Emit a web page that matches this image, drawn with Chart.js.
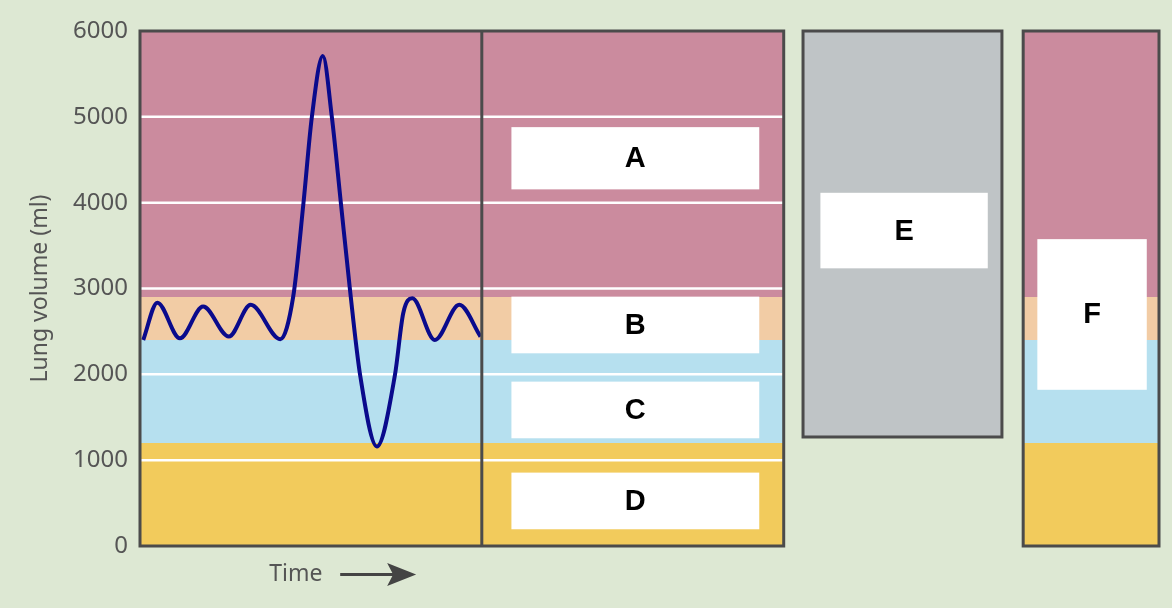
<!DOCTYPE html>
<html lang="en">
<head>
  <meta charset="UTF-8">
  <title>Lung volumes</title>
  <script src="https://cdn.jsdelivr.net/npm/chart.js"></script>
  <style>
    body { margin: 0; background: #dde8d3; }
    canvas { display: block; }
  </style>
</head>
<body>

  <canvas id="chart" width="1172" height="608"></canvas>

  <script>
    // spirometer trace (time in arbitrary units, volume in ml)
    const waveTime   = [0.5, 2.7, 6.2, 9.8, 13.8, 17.2, 21.8, 23.8, 25.4, 26.7, 28.4, 29.8, 31.2, 32.6, 34.2, 36.8, 39.6, 40.9, 42.3, 45.8, 49.6, 52.9];
    const waveVolume = [2400, 2835, 2420, 2790, 2440, 2810, 2410, 2905, 4000, 5000, 5710, 5000, 4000, 3000, 1990, 1160, 1990, 2715, 2885, 2400, 2810, 2440];

    // volume bands, bottom to top
    const bandBottoms = [0, 1200, 2400, 2900];
    const bandTops    = [1200, 2400, 2900, 6000];
    const bandColors  = ['#f2cb5c', '#b6e0ef', '#f2cca5', '#cb8b9e'];

    // vital capacity bar (E)
    const capacityBottom = 1270;
    const capacityTop = 6000;

    const gridValues = [1000, 2000, 3000, 4000, 5000];
    const yTicks = [0, 1000, 2000, 3000, 4000, 5000, 6000];

    const boxLabels = ['A', 'B', 'C', 'D', 'E', 'F'];

    // layout in axis units: x spans the three panels, y is ml
    const mainPanel = [0, 100];
    const dividerX = 53.1;
    const ePanel = [103, 133.9];
    const fPanel = [137.2, 158.3];
    const boxes = {
      A: [57.7, 96.2, 4880, 4155],
      B: [57.7, 96.2, 2905, 2245],
      C: [57.7, 96.2, 1915, 1255],
      D: [57.7, 96.2, 855, 195],
      E: [105.7, 131.7, 4115, 3235],
      F: [139.4, 156.4, 3575, 1820]
    };

    const datasets = [];

    // coloured bands in the main panel and in panel F
    [mainPanel, fPanel].forEach(p => {
      bandTops.forEach((top, i) => {
        datasets.push({
          data: [{ x: p[0], y: top }, { x: p[1], y: top }],
          fill: { value: bandBottoms[i] },
          backgroundColor: bandColors[i],
          borderWidth: 0,
          pointRadius: 0,
          order: 4
        });
      });
    });

    datasets.push({
      data: [{ x: ePanel[0], y: capacityTop }, { x: ePanel[1], y: capacityTop }],
      fill: { value: capacityBottom },
      backgroundColor: '#bfc4c6',
      borderWidth: 0,
      pointRadius: 0,
      order: 4
    });

    // white reference lines, main panel only
    gridValues.forEach(v => {
      datasets.push({
        data: [{ x: mainPanel[0], y: v }, { x: mainPanel[1], y: v }],
        borderColor: '#ffffff',
        borderWidth: 2.5,
        pointRadius: 0,
        fill: false,
        order: 3
      });
    });

    datasets.push({
      data: waveTime.map((t, i) => ({ x: t, y: waveVolume[i] })),
      borderColor: '#0a0a8c',
      borderWidth: 4,
      pointRadius: 0,
      fill: false,
      cubicInterpolationMode: 'monotone',
      order: 1
    });

    // frames, label boxes and the time arrow
    const overlay = {
      id: 'overlay',
      afterDatasetsDraw(chart) {
        const ctx = chart.ctx;
        const xs = chart.scales.x, ys = chart.scales.y;
        const px = v => xs.getPixelForValue(v);
        const py = v => ys.getPixelForValue(v);

        ctx.save();

        // white boxes with letters
        ctx.font = 'bold 29px "Liberation Sans", Arial, sans-serif';
        ctx.textAlign = 'center';
        ctx.textBaseline = 'middle';
        boxLabels.forEach(k => {
          const b = boxes[k];
          const x0 = px(b[0]), x1 = px(b[1]), y0 = py(b[2]), y1 = py(b[3]);
          ctx.fillStyle = '#ffffff';
          ctx.fillRect(x0, y0, x1 - x0, y1 - y0);
          ctx.fillStyle = '#000000';
          ctx.fillText(k, (x0 + x1) / 2, (y0 + y1) / 2 + 1);
        });

        // panel frames
        ctx.strokeStyle = '#4b4b4b';
        ctx.lineWidth = 3;
        const frame = (p, lo, hi) => {
          ctx.strokeRect(px(p[0]), py(hi), px(p[1]) - px(p[0]), py(lo) - py(hi));
        };
        frame(mainPanel, 0, 6000);
        frame(ePanel, capacityBottom, capacityTop);
        frame(fPanel, 0, 6000);

        ctx.beginPath();
        ctx.moveTo(px(dividerX), py(6000));
        ctx.lineTo(px(dividerX), py(0));
        ctx.stroke();

        // "Time" with arrow
        const ty = chart.chartArea.bottom + 28;
        ctx.fillStyle = '#555555';
        ctx.font = '23px "Noto Sans", sans-serif';
        ctx.fillText('Time', px(24.2), ty);

        const ax0 = px(31.1), ax1 = px(42.9);
        ctx.strokeStyle = '#444444';
        ctx.lineWidth = 3;
        ctx.beginPath();
        ctx.moveTo(ax0, ty + 0.5);
        ctx.lineTo(ax1 - 20, ty + 0.5);
        ctx.stroke();
        ctx.fillStyle = '#444444';
        ctx.beginPath();
        ctx.moveTo(ax1, ty + 0.5);
        ctx.lineTo(ax1 - 29, ty - 11);
        ctx.lineTo(ax1 - 23, ty + 0.5);
        ctx.lineTo(ax1 - 29, ty + 12);
        ctx.closePath();
        ctx.fill();

        ctx.restore();
      }
    };

    new Chart(document.getElementById('chart'), {
      type: 'line',
      data: { datasets: datasets },
      options: {
        responsive: false,
        animation: false,
        layout: { padding: { left: 0, top: 31, right: 13, bottom: 62 } },
        plugins: {
          legend: { display: false },
          tooltip: { enabled: false }
        },
        scales: {
          x: {
            type: 'linear',
            display: false,
            min: mainPanel[0],
            max: fPanel[1]
          },
          y: {
            min: 0,
            max: 6000,
            afterBuildTicks: s => { s.ticks = yTicks.map(v => ({ value: v })); },
            afterFit: s => { s.width = 140; },
            grid: { display: false, drawTicks: false },
            border: { display: false },
            ticks: {
              color: '#555555',
              padding: 12,
              font: { family: 'Noto Sans', size: 24 },
              callback: v => String(v)
            },
            title: {
              display: true,
              text: 'Lung volume (ml)',
              color: '#555555',
              font: { family: 'Noto Sans', size: 23 },
              padding: { top: 27, bottom: 0 }
            }
          }
        }
      },
      plugins: [overlay]
    });
  </script>

</body>
</html>
